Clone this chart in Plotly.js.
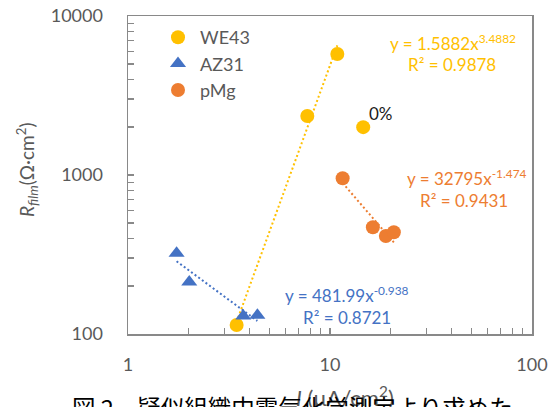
<!DOCTYPE html>
<html>
<head>
<meta charset="utf-8">
<script src="https://cdn.plot.ly/plotly-3.0.1.min.js"></script>
<style>
html,body{margin:0;padding:0;background:#fff;}
#chart{width:556px;height:407px;}
</style>
</head>
<body>
<div id="chart"></div>
<script>
// ---- data ----
const seriesNames = ['WE43', 'AZ31', 'pMg'];
const we43X = [3.45, 7.72, 10.87, 14.6];
const we43Y = [114, 2350, 5770, 2000];
const we43FitIdx = [0, 1, 2];          // "0%" point excluded from fit
const az31X = [1.74, 2.01, 3.72, 4.37];
const az31Y = [322, 212, 130, 131];
const pmgX = [11.55, 16.3, 18.9, 20.7];
const pmgY = [953, 469, 413, 436];
// power-law fit coefficients shown on the chart: y = a * x^b
const fitA = [1.5882, 481.99, 32795];
const fitB = [3.4882, -0.938, -1.474];
const fitR2 = [0.9878, 0.8721, 0.9431];
// axis ticks
const xTickVals = [1,2,3,4,5,6,7,8,9,10,20,30,40,50,60,70,80,90,100];
const xTickText = ['1','','','','','','','','','10','','','','','','','','','100'];
const yTickVals = [100,200,300,400,500,600,700,800,900,1000,2000,3000,4000,5000,6000,7000,8000,9000,10000];
const yTickText = ['100','','','','','','','','','1000','','','','','','','','','10000'];

const colors = ['#FFC000', '#4472C4', '#ED7D31'];
const FONT = 'Lato, "Noto Sans CJK JP", sans-serif';

function fitLine(xs, a, b) {
  const lo = Math.min(...xs), hi = Math.max(...xs);
  return {x: [lo, hi], y: [a * Math.pow(lo, b), a * Math.pow(hi, b)]};
}
const fitXs = [we43FitIdx.map(i => we43X[i]), az31X, pmgX];

const traces = [];
fitXs.forEach((xs, i) => {
  const f = fitLine(xs, fitA[i], fitB[i]);
  traces.push({x: f.x, y: f.y, mode: 'lines', showlegend: false, hoverinfo: 'skip',
    line: {color: colors[i], width: 2, dash: '2px,2.5px'}});
});
traces.push({x: we43X, y: we43Y, name: seriesNames[0], mode: 'markers', type: 'scatter',
  marker: {symbol: 'circle', size: 14, color: colors[0]}});
traces.push({x: az31X, y: az31Y, name: seriesNames[1], mode: 'markers', type: 'scatter',
  marker: {symbol: 'triangle-up', size: 14, color: colors[1]}});
traces.push({x: pmgX, y: pmgY, name: seriesNames[2], mode: 'markers', type: 'scatter',
  marker: {symbol: 'circle', size: 14, color: colors[2]}});

function px2x(p) { return (p - 128) / 404; }
function px2y(p) { return 1 - (p - 16) / 318; }

function eq(i) {
  return 'y = ' + fitA[i] + 'x<sup>' + fitB[i] + '</sup>';
}
const annFont = (c) => ({family: FONT, size: 17, color: c});
const annotations = [
  {text: eq(0), x: px2x(453), y: px2y(43), font: annFont(colors[0])},
  {text: 'R² = ' + fitR2[0], x: px2x(452), y: px2y(65), font: annFont(colors[0])},
  {text: '0%', x: px2x(381), y: px2y(113), font: annFont('#1a1a1a')},
  {text: eq(2), x: px2x(467), y: px2y(177), font: annFont(colors[2])},
  {text: 'R² = ' + fitR2[2], x: px2x(464), y: px2y(200), font: annFont(colors[2])},
  {text: eq(1), x: px2x(347), y: px2y(294), font: annFont(colors[1])},
  {text: 'R² = ' + fitR2[1], x: px2x(347), y: px2y(317), font: annFont(colors[1])},
  {text: '<i>R</i><sub><i>film</i></sub>(Ω·cm<sup>2</sup>)', x: px2x(27), y: px2y(170), textangle: -90,
    font: {family: FONT, size: 19, color: '#595959'}},
  {text: '<i>I</i> (μA/cm<sup>2</sup>)', x: px2x(345), y: px2y(396),
    font: {family: FONT, size: 22, color: '#595959'}},
  {text: '図 2．疑似組織中電気化学測定より求めた', x: px2x(70), xanchor: 'left', y: px2y(388), yanchor: 'top',
    font: {family: '"Noto Sans CJK JP", sans-serif', size: 23.5, color: '#000000'}}
].map(a => Object.assign({xref: 'paper', yref: 'paper', showarrow: false, xanchor: 'center', yanchor: 'middle'}, a));

const axisCommon = {
  type: 'log', showgrid: false, zeroline: false,
  showline: true, linecolor: '#898989', linewidth: 1.5, mirror: true,
  ticks: 'inside', ticklen: 6, tickwidth: 1.3, tickcolor: '#898989',
  tickmode: 'array',
  tickfont: {family: FONT, size: 18, color: '#595959'}
};

const layout = {
  width: 556, height: 407,
  margin: {l: 128, r: 24, t: 16, b: 73},
  paper_bgcolor: '#ffffff', plot_bgcolor: '#ffffff',
  font: {family: FONT},
  showlegend: true,
  legend: {x: px2x(156), y: px2y(19), xanchor: 'left', yanchor: 'top', bgcolor: 'rgba(0,0,0,0)',
    itemwidth: 34,
    font: {family: FONT, size: 18, color: '#595959'}, tracegroupgap: 0},
  xaxis: Object.assign({}, axisCommon, {range: [0, 2], tickvals: xTickVals, ticktext: xTickText, ticklabelstandoff: 14}),
  yaxis: Object.assign({}, axisCommon, {range: [2, 4], tickvals: yTickVals, ticktext: yTickText, ticklabelstandoff: 20}),
  annotations: annotations
};

Plotly.newPlot('chart', traces, layout, {displayModeBar: false, staticPlot: true});
</script>
</body>
</html>
